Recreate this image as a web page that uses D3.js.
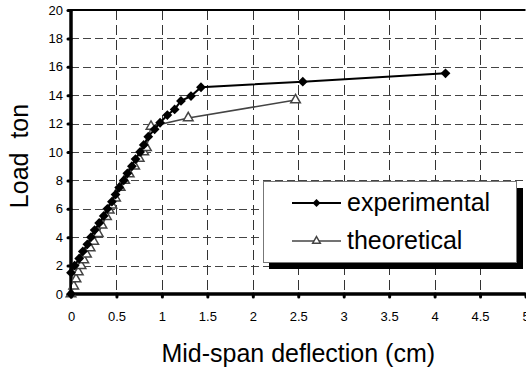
<!DOCTYPE html>
<html>
<head>
<meta charset="utf-8">
<script src="https://cdn.jsdelivr.net/npm/d3@7"></script>
<style>
  body { margin: 0; background: #fff; }
  svg { display: block; font-family: "Liberation Sans", Arial, sans-serif; }
</style>
</head>
<body>
<svg id="chart" width="526" height="370"></svg>
<script>
// data
const expX = [0, 0, 0.04, 0.09, 0.13, 0.18, 0.22, 0.26, 0.31, 0.36, 0.4, 0.45, 0.49, 0.53, 0.58, 0.62, 0.67, 0.71, 0.76, 0.8, 0.85, 0.92, 0.98, 1.06, 1.14, 1.21, 1.32, 1.43, 2.55, 4.12]
const expY = [0, 1.5, 2.0, 2.5, 3.0, 3.5, 4.0, 4.5, 5.0, 5.5, 6.0, 6.5, 7.0, 7.5, 8.0, 8.5, 9.0, 9.5, 10.0, 10.5, 11.08, 11.6, 12.06, 12.6, 13.0, 13.6, 13.94, 14.56, 14.95, 15.54]
const theoX = [0, 0.03, 0.055, 0.08, 0.11, 0.14, 0.17, 0.21, 0.25, 0.3, 0.34, 0.39, 0.42, 0.45, 0.49, 0.54, 0.59, 0.64, 0.7, 0.75, 0.8, 0.83, 0.88, 1.29, 2.47]
const theoY = [0, 0.55, 1.05, 1.55, 2.0, 2.4, 2.8, 3.25, 3.7, 4.25, 4.85, 5.45, 5.9, 6.25, 6.75, 7.5, 8.0, 8.45, 9.0, 9.55, 10.0, 10.3, 11.8, 12.4, 13.66]
const xTicks = [0, 0.5, 1, 1.5, 2, 2.5, 3, 3.5, 4, 4.5, 5]
const yTicks = [0, 2, 4, 6, 8, 10, 12, 14, 16, 18, 20]
const seriesNames = ['experimental', 'theoretical']

const svg = d3.select('#chart')
const mLeft = 71, mRight = 525.5, mTop = 10, mBottom = 294

const x = d3.scaleLinear().domain([0, 5]).range([mLeft, mRight])
const y = d3.scaleLinear().domain([0, 20]).range([mBottom, mTop])

// grid
svg.append('g')
  .selectAll('line')
  .data(yTicks.filter(d => d > 0 && d < 20))
  .enter().append('line')
  .attr('x1', mLeft).attr('x2', mRight)
  .attr('y1', d => Math.round(y(d)) + 0.5).attr('y2', d => Math.round(y(d)) + 0.5)
  .attr('stroke', '#444').attr('stroke-dasharray', '8,4')

svg.append('g')
  .selectAll('line')
  .data(xTicks.filter(d => d > 0))
  .enter().append('line')
  .attr('y1', mTop).attr('y2', mBottom)
  .attr('x1', d => Math.round(x(d)) + 0.5).attr('x2', d => Math.round(x(d)) + 0.5)
  .attr('stroke', d => d === 5 ? '#888' : '#333')
  .attr('stroke-dasharray', d => d === 5 ? null : '10,5')

// top border
svg.append('line')
  .attr('x1', mLeft).attr('x2', mRight)
  .attr('y1', mTop).attr('y2', mTop)
  .attr('stroke', '#000').attr('stroke-width', 2)

// axes
const xAxis = svg.append('g')
  .attr('transform', `translate(0,${mBottom})`)
  .call(d3.axisBottom(x).tickValues(xTicks).tickSize(3).tickPadding(15)
    .tickFormat(d => d))
  .attr('font-family', null)
xAxis.select('.domain').attr('stroke-width', 3.5).attr('d', `M${mLeft - 2},0H${mRight}`)
xAxis.selectAll('.tick line').attr('stroke-width', 3).attr('stroke-linecap', 'round')
xAxis.selectAll('text').attr('font-size', 13).attr('fill', '#000')

const yAxis = svg.append('g')
  .attr('transform', `translate(${mLeft},0)`)
  .call(d3.axisLeft(y).tickValues(yTicks).tickSize(3).tickPadding(5))
  .attr('font-family', null)
yAxis.select('.domain').attr('stroke-width', 3.5).attr('d', `M0,${mTop - 1}V${mBottom}`)
yAxis.selectAll('.tick line').attr('stroke-width', 3).attr('stroke-linecap', 'round')
yAxis.selectAll('text').attr('font-size', 13).attr('fill', '#000')

// series
const line = d3.line()
const expPts = expX.map((d, i) => [x(d), y(expY[i])])
const theoPts = theoX.map((d, i) => [x(d), y(theoY[i])])

svg.append('path')
  .attr('d', line(theoPts))
  .attr('fill', 'none').attr('stroke', '#444').attr('stroke-width', 1.5)

svg.append('g').selectAll('path')
  .data(theoPts)
  .enter().append('path')
  .attr('transform', d => `translate(${d[0]},${d[1]})`)
  .attr('d', d3.symbol(d3.symbolTriangle, 40))
  .attr('fill', '#fff').attr('stroke', '#444').attr('stroke-width', 1.5)

svg.append('path')
  .attr('d', line(expPts))
  .attr('fill', 'none').attr('stroke', '#000').attr('stroke-width', 2)

// diamonds = squares turned 45deg
svg.append('g').selectAll('path')
  .data(expPts)
  .enter().append('path')
  .attr('transform', d => `translate(${d[0]},${d[1]}) rotate(45)`)
  .attr('d', d3.symbol(d3.symbolSquare, 48))
  .attr('fill', '#000')

// legend
const lg = svg.append('g')
lg.append('rect')
  .attr('x', 269).attr('y', 188).attr('width', 254).attr('height', 81)
  .attr('fill', '#000')
lg.append('rect')
  .attr('x', 263.5).attr('y', 181.5).attr('width', 253).attr('height', 81)
  .attr('fill', '#fff').attr('stroke', '#777')

const legendY = [203, 241]
seriesNames.forEach((name, i) => {
  const ly = legendY[i]
  lg.append('line')
    .attr('x1', 292).attr('x2', 341).attr('y1', ly).attr('y2', ly)
    .attr('stroke', i === 0 ? '#000' : '#444').attr('stroke-width', i === 0 ? 2 : 1.5)
  lg.append('path')
    .attr('transform', i === 0 ? `translate(316.5,${ly}) rotate(45)` : `translate(316.5,${ly})`)
    .attr('d', d3.symbol(i === 0 ? d3.symbolSquare : d3.symbolTriangle, i === 0 ? 32 : 25))
    .attr('fill', i === 0 ? '#000' : '#fff')
    .attr('stroke', i === 0 ? 'none' : '#444').attr('stroke-width', 1.5)
  lg.append('text')
    .attr('x', 347).attr('y', ly + 8)
    .attr('font-size', 25)
    .text(name)
})

// labels
svg.append('text')
  .attr('x', (mLeft + mRight) / 2).attr('y', 362)
  .attr('text-anchor', 'middle')
  .attr('font-size', 25)
  .text('Mid-span deflection (cm)')

svg.append('text')
  .attr('transform', 'translate(28,156) rotate(-90)')
  .attr('text-anchor', 'middle')
  .attr('font-size', 25)
  .style('white-space', 'pre')
  .text('Load  ton')
</script>
</body>
</html>
